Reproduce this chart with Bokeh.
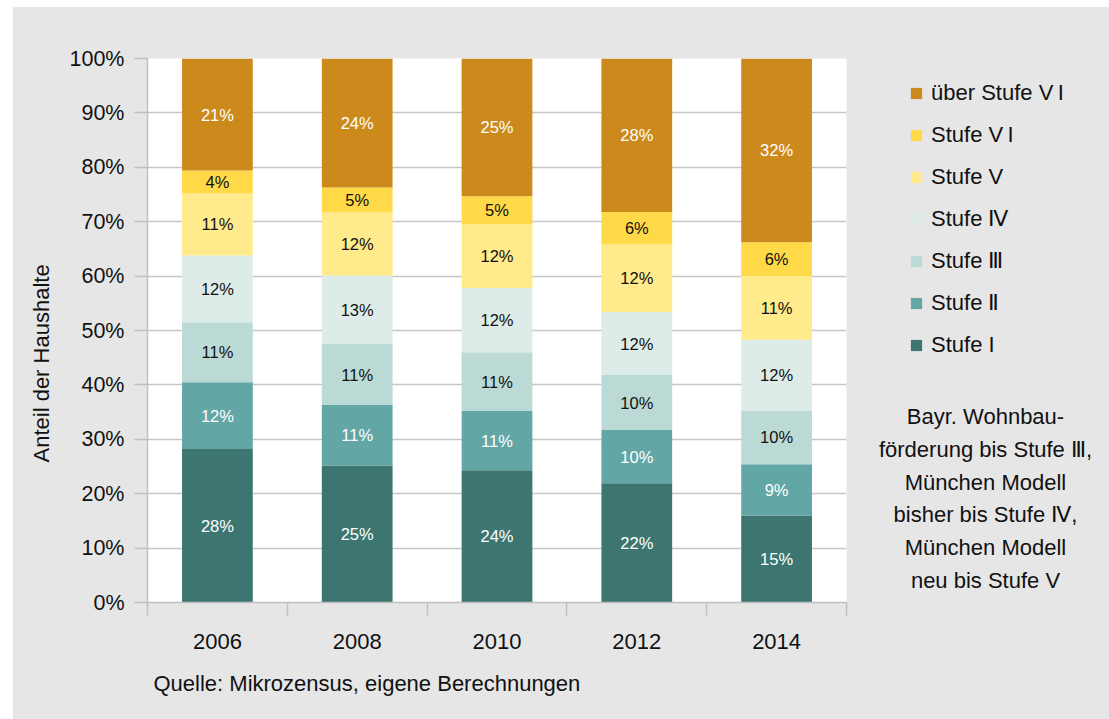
import math
from bokeh.plotting import figure
from bokeh.models import (ColumnDataSource, Range1d, FixedTicker, PrintfTickFormatter,
                          LinearAxis, CategoricalAxis, Legend, LegendItem, Label, Spacer, Title)
from bokeh.layouts import row, column
from bokeh.core.properties import value
from bokeh.embed import file_html
from bokeh.resources import INLINE

# ---- data (percent of households) ----
years = ["2006", "2008", "2010", "2012", "2014"]
stufe_I = [28.2, 25.2, 24.3, 21.9, 16.0]
stufe_II = [12.3, 11.1, 10.9, 9.8, 9.4]
stufe_III = [11.0, 11.2, 10.8, 10.1, 9.9]
stufe_IV = [12.3, 12.6, 11.8, 11.6, 13.0]
stufe_V = [11.4, 11.6, 11.7, 12.4, 11.7]
stufe_VI = [4.2, 4.6, 5.2, 6.0, 6.2]
ueber_VI = [20.6, 23.7, 25.3, 28.2, 33.8]

# printed data labels
lab_I = ["28%", "25%", "24%", "22%", "15%"]
lab_II = ["12%", "11%", "11%", "10%", "9%"]
lab_III = ["11%", "11%", "11%", "10%", "10%"]
lab_IV = ["12%", "13%", "12%", "12%", "12%"]
lab_V = ["11%", "12%", "12%", "12%", "11%"]
lab_VI = ["4%", "5%", "5%", "6%", "6%"]
lab_ueber = ["21%", "24%", "25%", "28%", "32%"]

series_names = ["Stufe I", "Stufe \u2161", "Stufe \u2162", "Stufe \u2163", "Stufe V",
                "Stufe V\u2009I", "\u00fcber Stufe V\u2009I"]
y_ticks = [0, 10, 20, 30, 40, 50, 60, 70, 80, 90, 100]

FONT = "Liberation Sans"
BG = "#e6e6e6"
TXT = "#111111"
colors = ["#3d7671", "#62a6a5", "#bbdad5", "#ddece8", "#ffea8c", "#ffd947", "#cc8a1c"]
label_colors = ["white", "white", TXT, TXT, TXT, TXT, "white"]

keys = ["s1", "s2", "s3", "s4", "s5", "s6", "s7"]
series = [stufe_I, stufe_II, stufe_III, stufe_IV, stufe_V, stufe_VI, ueber_VI]
labels = [lab_I, lab_II, lab_III, lab_IV, lab_V, lab_VI, lab_ueber]

data = {"year": years}
for k, s_ in zip(keys, series):
    data[k] = s_
source = ColumnDataSource(data)

# ---------------- main chart ----------------
p = figure(x_range=years, y_range=Range1d(0, 100), width=837, height=712,
           output_backend="svg", toolbar_location=None, x_axis_location=None,
           min_border_left=134, min_border_right=4, min_border_top=51, min_border_bottom=117)
p.background_fill_color = "white"
p.border_fill_color = BG
p.outline_line_color = None

renderers = p.vbar_stack(keys, x="year", width=0.506, color=colors, line_color=None, source=source)

# data labels
tx, ty, tt, tc = [], [], [], []
for i, y in enumerate(years):
    base = 0.0
    for s_, lab, c in zip(series, labels, label_colors):
        tx.append(y)
        ty.append(base + s_[i] / 2.0)
        tt.append(lab[i])
        tc.append(c)
        base += s_[i]
lsrc = ColumnDataSource(dict(x=tx, y=ty, text=tt, color=tc))
p.text(x="x", y="y", text="text", text_color="color", source=lsrc,
       text_align="center", text_baseline="middle", text_font=value(FONT),
       text_font_size="16.5px")

# y axis
yax = p.yaxis[0]
yax.ticker = FixedTicker(ticks=y_ticks)
yax.formatter = PrintfTickFormatter(format="%d%%")
yax.major_label_text_font = FONT
yax.major_label_text_font_size = "21.5px"
yax.major_label_text_color = TXT
yax.major_label_standoff = 10
yax.axis_line_color = "#c0c0c0"
yax.axis_line_width = 1.5
yax.major_tick_line_color = "#c0c0c0"
yax.major_tick_line_width = 1.5
yax.major_tick_out = 13
yax.major_tick_in = 0
yax.minor_tick_line_color = None

p.ygrid.grid_line_color = "#c6c6c6"
p.ygrid.grid_line_width = 1.5
p.ygrid.ticker = FixedTicker(ticks=y_ticks)
p.xgrid.grid_line_color = None

# x axis: boundary ticks (category edges in synthetic coordinates) + category labels
edge_ticks = list(range(len(years) + 1))
edge_axis = LinearAxis(ticker=FixedTicker(ticks=edge_ticks),
                       major_label_overrides={t: "" for t in edge_ticks},
                       major_label_text_font_size="0px", major_label_standoff=0,
                       axis_line_color="#c0c0c0", axis_line_width=1.5,
                       major_tick_line_color="#c0c0c0", major_tick_line_width=1.5,
                       major_tick_out=13, major_tick_in=0, minor_tick_line_color=None)
p.add_layout(edge_axis, "below")
cat_axis = CategoricalAxis(axis_line_color=None, major_tick_line_color=None,
                           major_label_text_font=FONT, major_label_text_font_size="22px",
                           major_label_text_color=TXT, major_label_standoff=12)
p.add_layout(cat_axis, "below")

p.add_layout(Title(text="Quelle: Mikrozensus, eigene Berechnungen", align="left", offset=6,
                   text_font=FONT, text_font_size="22px", text_font_style="normal",
                   text_color=TXT, standoff=34), "below")
p.add_layout(Title(text="Anteil der Haushalte", align="left", offset=140,
                   text_font=FONT, text_font_size="22px", text_font_style="normal",
                   text_color=TXT, standoff=26), "left")

# ---------------- side panel: legend + note ----------------
s = figure(width=259, height=712, x_range=Range1d(0, 259), y_range=Range1d(0, 712),
           output_backend="svg", toolbar_location=None,
           x_axis_location=None, y_axis_location=None,
           min_border=0, min_border_left=0, min_border_right=0, min_border_top=0, min_border_bottom=0)
s.background_fill_color = BG
s.border_fill_color = BG
s.outline_line_color = None
s.grid.visible = False

# zero-size proxy glyphs that only carry the legend colours
proxies = [s.vbar(x=[0], top=[0], width=0, color=c, line_color=None) for c in colors]
items = [LegendItem(label=n, renderers=[r]) for n, r in zip(series_names, proxies)][::-1]
legend = Legend(items=items, location=(59, 244), orientation="vertical",
                background_fill_alpha=0, border_line_color=None,
                padding=0, margin=0, spacing=16,
                glyph_width=14, glyph_height=14, label_height=22,
                label_standoff=8, label_text_font=FONT, label_text_font_size="22px",
                label_text_color=TXT)
s.add_layout(legend)

note = ("Bayr. Wohnbau-\nf\u00f6rderung bis Stufe \u2162,\nM\u00fcnchen Modell\n"
        "bisher bis Stufe \u2163,\nM\u00fcnchen Modell\nneu bis Stufe V")
s.add_layout(Label(x=135, y=136, text=note, text_align="center", text_baseline="middle",
                   text_font=FONT, text_font_size="22px", text_color=TXT,
                   text_line_height=1.31))

inner = row(p, s, styles={"background-color": BG})
layout = row(Spacer(width=13), column(Spacer(height=7), inner))
open("out.html", "w").write(file_html(layout, INLINE))
